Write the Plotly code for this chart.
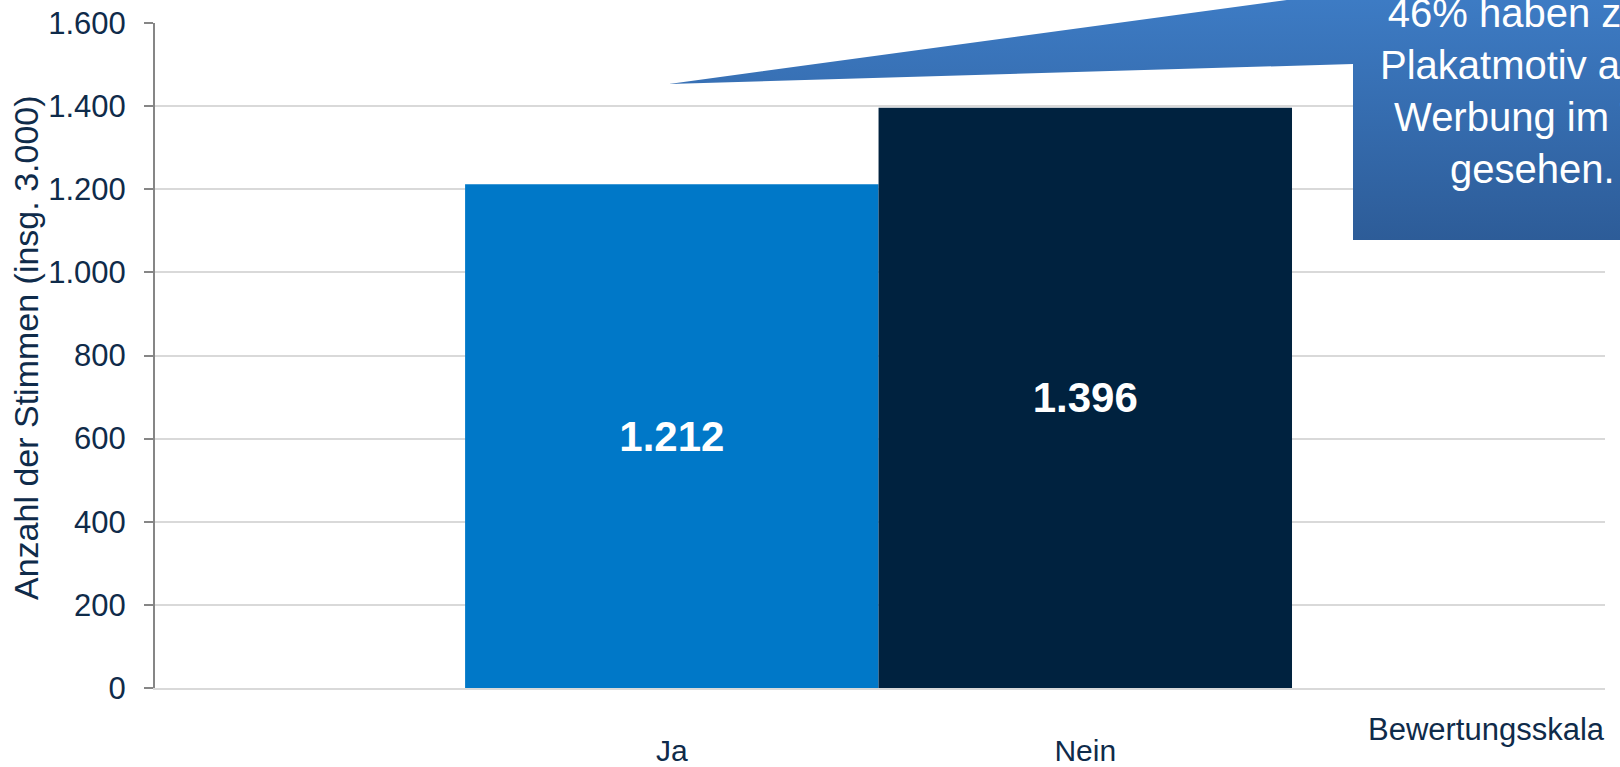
import plotly.graph_objects as go

# ---- data ----
categories = ["Ja", "Nein"]
votes = [1212, 1396]
value_labels = ["1.212", "1.396"]
bar_colors = ["#0078C8", "#00223F"]
y_ticks = [0, 200, 400, 600, 800, 1000, 1200, 1400, 1600]
y_tick_labels = ["0", "200", "400", "600", "800", "1.000", "1.200", "1.400", "1.600"]
y_title = "Anzahl der Stimmen (insg. 3.000)"
x_title = "Bewertungsskala"
callout_lines = ["46% haben zum", "Plakatmotiv auch", "Werbung im TV", "gesehen."]

W, H = 1620, 767
FONT = "Liberation Sans, Arial, sans-serif"
TXT = "#0F2B4A"

# plot-area placement in page pixels
left, right, top, bottom = 155, 1605, 23, 688

fig = go.Figure()
fig.add_trace(go.Bar(
    x=categories, y=votes, width=1,
    marker=dict(color=bar_colors, line=dict(width=0)),
    text=value_labels, textposition="inside", insidetextanchor="middle",
    textangle=0,
    textfont=dict(family=FONT, size=42, color="white", weight="bold"),
    hoverinfo="skip", showlegend=False,
))

# callout (decoration) drawn on a full-page overlay axis in pixel units
cx = [1353, 1720, 1720, 1353, 1353, 669, 1353, 1353]
cy = [-60, -60, 240, 240, 64, 84, -9, -60]
fig.add_trace(go.Scatter(
    x=cx, y=cy, xaxis="x2", yaxis="y2", mode="lines", fill="toself",
    line=dict(width=0, color="rgba(0,0,0,0)"),
    fillgradient=dict(type="vertical", start=-60, stop=240,
                      colorscale=[[0, "#4183CF"], [1, "#2D5C98"]]),
    hoverinfo="skip", showlegend=False,
))

fig.update_layout(
    width=W, height=H,
    margin=dict(l=0, r=0, t=0, b=0),
    paper_bgcolor="white", plot_bgcolor="rgba(0,0,0,0)",
    font=dict(family=FONT, color=TXT),
    xaxis=dict(
        domain=[left / W, right / W], anchor="y",
        type="category", range=[-1.25, 2.257],
        showgrid=False, showline=True, linecolor="#D9D9D9", linewidth=2,
        ticks="", tickfont=dict(size=30, color=TXT), ticklabelstandoff=35,
        automargin=False,
    ),
    yaxis=dict(
        domain=[1 - bottom / H, 1 - top / H], anchor="x",
        range=[0, 1600], tickmode="array", tickvals=y_ticks, ticktext=y_tick_labels,
        showgrid=True, gridcolor="#D9D9D9", gridwidth=2, zeroline=False,
        showline=True, linecolor="#868686", linewidth=2,
        ticks="outside", ticklen=9, tickwidth=2, tickcolor="#868686",
        tickfont=dict(size=31, color=TXT), ticklabelstandoff=12,
        automargin=False,
    ),
    xaxis2=dict(domain=[0, 1], range=[0, W], visible=False, anchor="y2", fixedrange=True),
    yaxis2=dict(domain=[0, 1], range=[H, 0], visible=False, anchor="x2", fixedrange=True),
    annotations=[
        dict(xref="paper", yref="paper", x=26 / W, y=1 - 348 / H,
             xanchor="center", yanchor="middle", showarrow=False, textangle=-90,
             text=y_title, font=dict(size=34, color=TXT, family=FONT)),
        dict(xref="paper", yref="paper", x=1607 / W, y=1 - 729 / H,
             xanchor="right", yanchor="middle", showarrow=False,
             text=x_title, font=dict(size=31, color=TXT, family=FONT)),
        dict(xref="paper", yref="paper", x=1532 / W, y=1 - 91 / H,
             xanchor="center", yanchor="middle", align="center", showarrow=False,
             text="<br>".join(callout_lines),
             font=dict(size=40, color="white", family=FONT)),
    ],
)

fig.write_html("out.html", config={"displayModeBar": False},
               post_script="document.body.style.margin='0';document.body.style.overflow='hidden';")
